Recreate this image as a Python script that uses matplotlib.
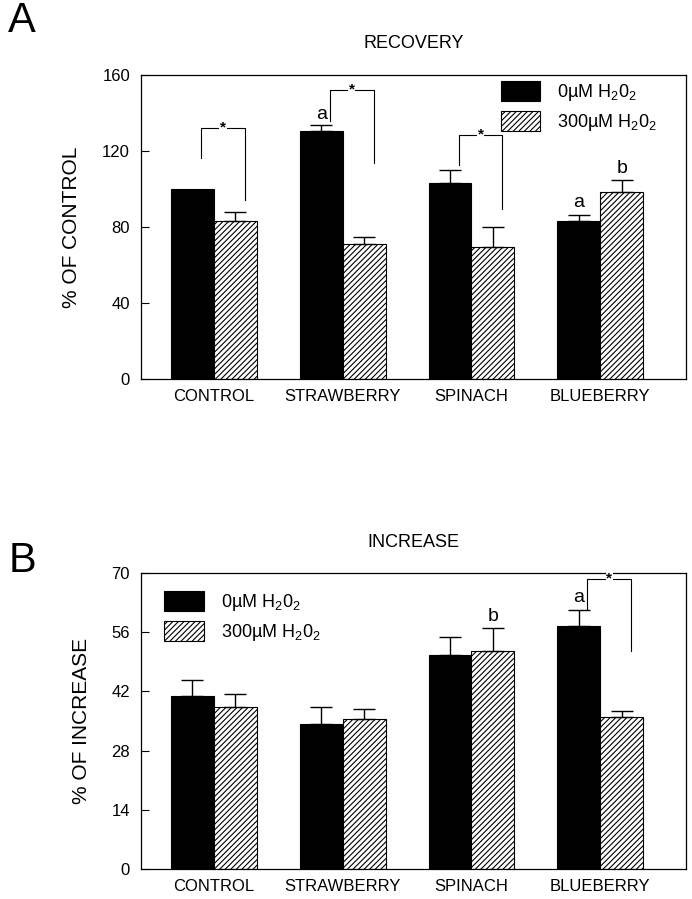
"""Two-panel grouped bar chart: recovery / increase with and without H2O2."""
import matplotlib

matplotlib.use("Agg")
import matplotlib.pyplot as plt
import numpy as np

SANS = ["Liberation Sans", "DejaVu Sans"]
plt.rcParams["font.family"] = SANS
plt.rcParams["mathtext.fontset"] = "custom"
plt.rcParams["mathtext.rm"] = "Liberation Sans"
plt.rcParams["mathtext.it"] = "Liberation Sans"
plt.rcParams["hatch.linewidth"] = 0.8

groups = ["CONTROL", "STRAWBERRY", "SPINACH", "BLUEBERRY"]
series = [r"0µM H$_2$0$_2$", r"300µM H$_2$0$_2$"]

# panel A: recovery (% of control)
rec_0 = [100, 130.5, 103, 83]
rec_0_err = [0, 3, 7, 3.5]
rec_300 = [83, 71, 69.5, 98.5]
rec_300_err = [5, 3.5, 10.5, 6]
rec_ticks = [0, 40, 80, 120, 160]

# panel B: increase (%)
inc_0 = [41, 34.3, 50.7, 57.4]
inc_0_err = [3.6, 4, 4.1, 3.8]
inc_300 = [38.2, 35.5, 51.6, 35.9]
inc_300_err = [3.1, 2.4, 5.4, 1.4]
inc_ticks = [0, 14, 28, 42, 56, 70]

# significance brackets: (group, left bottom, right bottom, top)
rec_brackets = [(0, 116, 94, 132), (1, 135.5, 113.5, 152), (2, 112.5, 89.5, 128.5)]
inc_brackets = [(3, 61.5, 51.5, 68.7)]
# letters: (group, series index, letter, baseline y)
rec_letters = [(1, 0, "a", 136.5), (3, 0, "a", 90.5), (3, 1, "b", 108.5)]
inc_letters = [(2, 1, "b", 58.6), (3, 0, "a", 63.1)]

W = 0.333


def panel(ax, v0, e0, v1, e1, ticks, ylabel, title, brackets, letters, legend_xy):
    x = np.arange(len(groups))
    ax.bar(x - W / 2, v0, W, color="black", edgecolor="black", lw=0.8, label=series[0])
    ax.bar(x + W / 2, v1, W, color="white", edgecolor="black", hatch="//////", lw=0.8,
           label=series[1])
    for xs, v, e in ((x - W / 2, v0, e0), (x + W / 2, v1, e1)):
        for xi, vi, ei in zip(xs, v, e):
            if ei > 0:
                ax.errorbar(xi, vi, yerr=[[0], [ei]], fmt="none", ecolor="black",
                            elinewidth=1, capsize=8, capthick=1)
    for g, lb, rb, top in brackets:
        xl, xr = g - 0.1, g + 0.24
        ax.plot([xl, xl, xr, xr], [lb, top, top, rb], color="black", lw=0.8)
        ax.text((xl + xr) / 2, top, "*", ha="center", va="center", fontsize=11,
                fontweight="bold", bbox=dict(fc="white", ec="none", pad=0.5))
    for g, s, letter, y in letters:
        xs = g - W / 2 if s == 0 else g + W / 2
        ax.text(xs, y, letter, ha="center", va="baseline", fontsize=14)
    ax.set_xlim(-0.563, 3.668)
    ax.set_ylim(ticks[0], ticks[-1])
    ax.set_yticks(ticks)
    ax.set_xticks(x)
    ax.set_xticklabels(groups, fontsize=12)
    ax.tick_params(axis="x", length=0, pad=7)
    ax.tick_params(axis="y", direction="in", length=6, labelsize=12, pad=8)
    ax.set_ylabel(ylabel, fontsize=15, labelpad=15)
    ax.set_title(title, fontsize=13, pad=19)
    for sp in ax.spines.values():
        sp.set_linewidth(0.9)
    ax.legend(loc="upper left", bbox_to_anchor=legend_xy, frameon=False, fontsize=13,
              handlelength=2.2, handleheight=1.35, handletextpad=0.95, labelspacing=0.45,
              borderaxespad=0, borderpad=0)


fig = plt.figure(figsize=(6.92, 8.99), dpi=100)
ax1 = fig.add_axes([0.204, 0.578, 0.788, 0.339])
ax2 = fig.add_axes([0.204, 0.0334, 0.788, 0.3292])

panel(ax1, rec_0, rec_0_err, rec_300, rec_300_err, rec_ticks, "% OF CONTROL", "RECOVERY",
      rec_brackets, rec_letters, (0.659, 0.98))
panel(ax2, inc_0, inc_0_err, inc_300, inc_300_err, inc_ticks, "% OF INCREASE", "INCREASE",
      inc_brackets, inc_letters, (0.042, 0.94))

fig.text(0.012, 0.977, "A", fontsize=30, va="center")
fig.text(0.012, 0.376, "B", fontsize=30, va="center")

fig.savefig("out.png", dpi=100)
